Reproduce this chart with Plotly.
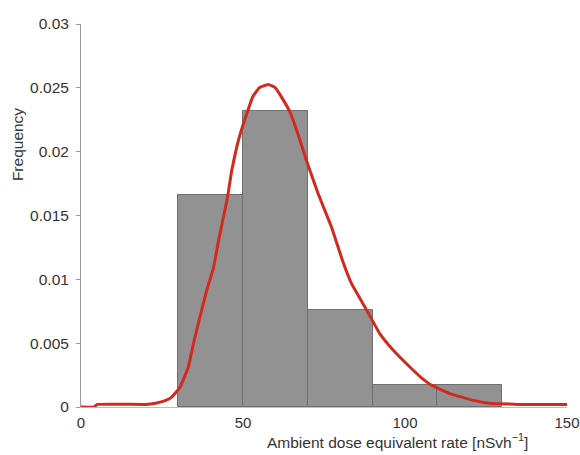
import plotly.graph_objects as go

# Histogram (density) bins
bin_left = [30, 50, 70, 90, 110]
bin_width = [20, 20, 20, 20, 20]
bin_density = [0.0166, 0.0232, 0.0076, 0.0017, 0.0017]

# Kernel density estimate curve
kde_x = [0, 4, 5, 20, 23, 26, 28, 30.6, 33.1, 34.7, 36.7, 38.8, 40.8, 42.4, 43.9, 45.2,
         46.5, 48, 49.5, 51.2, 53, 55, 57.8, 60, 61.9, 64.5, 66.6, 69.6, 73.2, 77.3, 80.7,
         83.5, 88.1, 92.2, 96.4, 101.5, 105, 108.2, 113.9, 121.1, 126, 129.3, 135, 139.6, 150]
kde_y = [0, 0, 0.0002, 0.0002, 0.0003, 0.0005, 0.00078, 0.00157, 0.0031, 0.00496, 0.00705,
         0.00914, 0.0108, 0.01295, 0.0148, 0.0164, 0.0185, 0.0203, 0.0217, 0.0230, 0.0243,
         0.0250, 0.02526, 0.0250, 0.02427, 0.0231, 0.02166, 0.0193, 0.0167, 0.0141, 0.01148,
         0.00966, 0.00762, 0.00575, 0.00444, 0.00313, 0.0023, 0.0017, 0.00105, 0.00052,
         0.0003, 0.00026, 0.0002, 0.00019, 0.00019]

x_ticks = [0, 50, 100, 150]
y_ticks = [0, 0.005, 0.01, 0.015, 0.02, 0.025, 0.03]
y_tick_text = ["0", "0.005", "0.01", "0.015", "0.02", "0.025", "0.03"]

FONT = "Liberation Sans, Arial, sans-serif"
TXT = "#333333"

fig = go.Figure()
fig.add_trace(go.Bar(
    x=bin_left, y=bin_density, width=bin_width, offset=0,
    marker=dict(color="#929292", line=dict(color="#6f6f6f", width=1)),
    showlegend=False, hoverinfo="skip",
))
fig.add_trace(go.Scatter(
    x=kde_x, y=kde_y, mode="lines",
    line=dict(color="#d42a1e", width=3, shape="spline", smoothing=0.3),
    showlegend=False,
))

fig.update_layout(
    width=580, height=455,
    margin=dict(l=81, r=13, t=23.5, b=48.3),
    paper_bgcolor="white", plot_bgcolor="white",
    font=dict(family=FONT, size=15.5, color=TXT),
    bargap=0,
    xaxis=dict(
        range=[0, 150], tickvals=x_ticks, ticks="", showgrid=False, zeroline=False,
        showline=True, linecolor="#bdbdbd", linewidth=1, automargin=False,
        ticklabeloverflow="allow",
        tickfont=dict(family=FONT, size=15, color=TXT), ticklabelstandoff=2,
    ),
    yaxis=dict(
        range=[0, 0.03], tickvals=y_ticks, ticktext=y_tick_text, ticks="outside",
        ticklen=4, tickcolor="#999999", showgrid=False, zeroline=False,
        showline=True, linecolor="#999999", linewidth=1, automargin=False,
        tickfont=dict(family=FONT, size=15.5, color=TXT), ticklabelstandoff=4,
    ),
    annotations=[
        dict(text="Ambient dose equivalent rate [nSvh<sup>\u22121</sup>]",
             xref="paper", yref="paper", x=0.652, y=-0.09,
             xanchor="center", yanchor="middle", showarrow=False,
             font=dict(family=FONT, size=15.5, color=TXT)),
        dict(text="Frequency", xref="paper", yref="paper", x=-0.132, y=0.686,
             xanchor="center", yanchor="middle", textangle=-90, showarrow=False,
             font=dict(family=FONT, size=15.5, color=TXT)),
    ],
)

fig.write_html("out.html", config={"displayModeBar": False},
               post_script="document.body.style.margin='0';")
